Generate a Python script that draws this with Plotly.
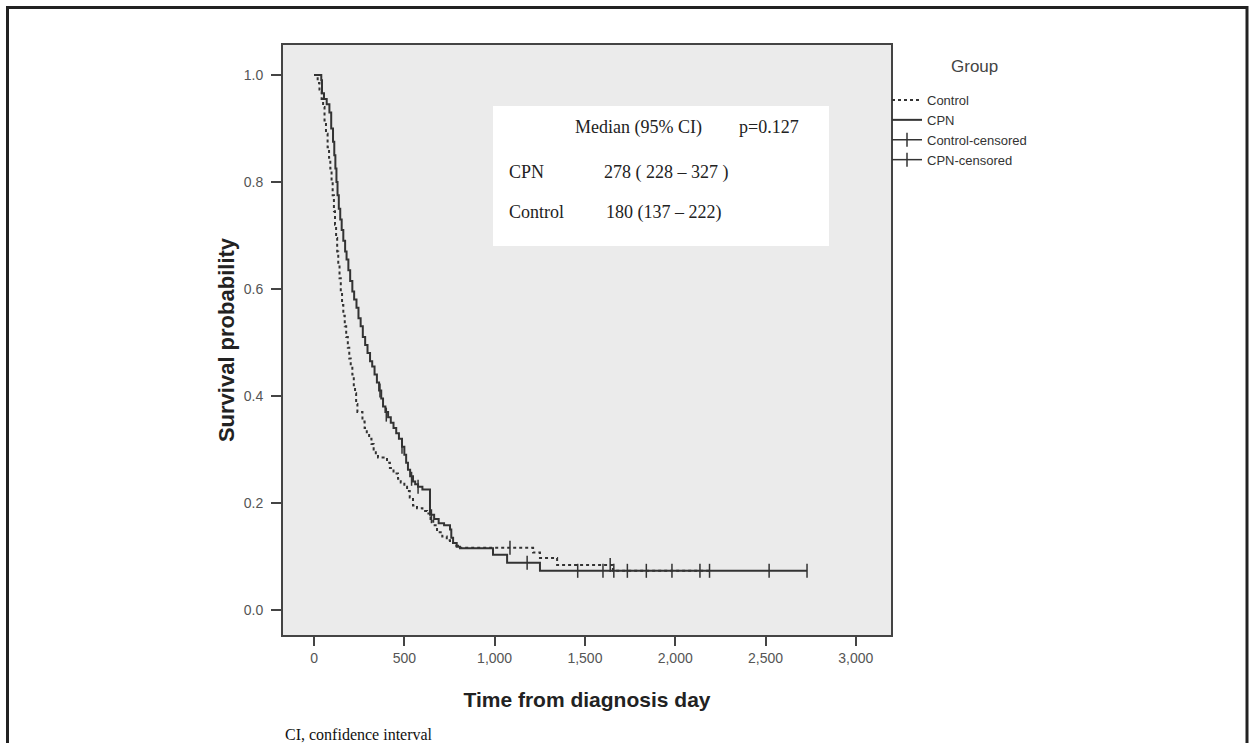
import plotly.graph_objects as go

# ---- data ----
cpn_time = [0, 40, 44, 55, 70, 85, 95, 105, 112, 118, 124, 130, 137, 145, 153, 162, 172, 180,
            190, 200, 212, 222, 235, 246, 258, 270, 283, 296, 310, 322, 335, 348, 360, 372,
            382, 395, 410, 425, 440, 455, 470, 487, 500, 510, 520, 532, 548, 560, 576, 600,
            642, 665, 690, 720, 753, 760, 770, 790, 808, 991, 1069, 1251, 2730]
cpn_surv = [1.0, 0.99, 0.966, 0.955, 0.945, 0.93, 0.90, 0.875, 0.85, 0.825, 0.80, 0.775, 0.75,
            0.73, 0.71, 0.69, 0.67, 0.655, 0.635, 0.615, 0.595, 0.58, 0.565, 0.545, 0.53,
            0.51, 0.495, 0.48, 0.465, 0.455, 0.44, 0.425, 0.41, 0.395, 0.38, 0.37, 0.36, 0.35,
            0.34, 0.33, 0.32, 0.305, 0.29, 0.275, 0.262, 0.25, 0.24, 0.235, 0.23, 0.225,
            0.178, 0.17, 0.162, 0.158, 0.15, 0.135, 0.125, 0.118, 0.115, 0.103, 0.088, 0.073,
            0.073]

ctrl_time = [0, 20, 30, 42, 50, 58, 66, 75, 83, 90, 97, 103, 110, 116, 122, 128, 134, 141, 148,
             155, 162, 170, 178, 187, 195, 203, 212, 220, 227, 233, 240, 268, 280, 292, 305,
             318, 330, 342, 354, 404, 420, 440, 465, 480, 500, 515, 530, 548, 570, 600, 626,
             645, 660, 681, 710, 735, 753, 775, 797, 1213, 1251, 1346, 1655, 2193]
ctrl_surv = [1.0, 0.985, 0.97, 0.955, 0.94, 0.915, 0.89, 0.865, 0.845, 0.825, 0.80, 0.775,
             0.745, 0.72, 0.695, 0.67, 0.645, 0.62, 0.595, 0.57, 0.55, 0.53, 0.51, 0.49, 0.47,
             0.455, 0.44, 0.42, 0.405, 0.385, 0.37, 0.352, 0.34, 0.33, 0.32, 0.31, 0.30, 0.29,
             0.285, 0.275, 0.265, 0.255, 0.245, 0.238, 0.23, 0.222, 0.21, 0.195, 0.19, 0.185,
             0.18, 0.17, 0.158, 0.145, 0.137, 0.13, 0.125, 0.12, 0.116, 0.107, 0.097, 0.084,
             0.073, 0.073]

cpn_cens_time = [365, 400, 487, 540, 576, 650, 1180, 1460, 1600, 1840, 2190, 2520, 2730]
cpn_cens_surv = [0.41, 0.365, 0.305, 0.245, 0.23, 0.175, 0.088, 0.073, 0.073, 0.073, 0.073,
                 0.073, 0.073]
ctrl_cens_time = [1085, 1640, 1660, 1735, 1982, 2137]
ctrl_cens_surv = [0.116, 0.084, 0.073, 0.073, 0.073, 0.073]

x_ticks = [0, 500, 1000, 1500, 2000, 2500, 3000]
y_ticks = [0.0, 0.2, 0.4, 0.6, 0.8, 1.0]

table_rows = [("CPN", "278 ( 228 – 327 )"), ("Control", "180 (137 – 222)")]
table_header = "Median (95% CI)"
p_text = "p=0.127"

# ---- geometry (pixels) ----
W, H = 1249, 743
L, R, T, B = 283, 891, 45, 635
def px(xp):
    return (xp - L) / (R - L)
def py(yp):
    return (B - yp) / (B - T)

LINE = "#333333"

def broken(xs, ys):
    bx, by = [], []
    for a, b in zip(xs, ys):
        bx += [a, None]
        by += [b, None]
    return bx, by

fig = go.Figure()
fig.add_trace(go.Scatter(x=ctrl_time, y=ctrl_surv, mode="lines", name="Control",
                         line=dict(color=LINE, width=2, dash="dot", shape="hv")))
fig.add_trace(go.Scatter(x=cpn_time, y=cpn_surv, mode="lines", name="CPN",
                         line=dict(color=LINE, width=2, shape="hv")))
cx, cy = broken(ctrl_cens_time, ctrl_cens_surv)
fig.add_trace(go.Scatter(x=cx, y=cy, mode="lines+markers", name="Control-censored",
                         line=dict(color=LINE, width=1.5),
                         marker=dict(symbol="line-ns", size=10, line=dict(color=LINE, width=1.5))))
kx, ky = broken(cpn_cens_time, cpn_cens_surv)
fig.add_trace(go.Scatter(x=kx, y=ky, mode="lines+markers", name="CPN-censored",
                         line=dict(color=LINE, width=1.5),
                         marker=dict(symbol="line-ns", size=10, line=dict(color=LINE, width=1.5))))

serif = "Liberation Serif, Times New Roman, serif"
sans = "Liberation Sans, Arial, sans-serif"
TXT = dict(family=serif, size=18, color="#222")

shapes = [
    dict(type="rect", xref="paper", yref="paper", x0=px(493), x1=px(829), y0=py(246), y1=py(106),
         fillcolor="white", line=dict(width=0), layer="below"),
    dict(type="rect", xref="paper", yref="paper", x0=px(7.5), x1=px(1247), y0=py(780), y1=py(7.5),
         line=dict(color="#222222", width=3), fillcolor="rgba(0,0,0,0)"),
]

def ann(text, xp, yp, font, anchor="left"):
    return dict(text=text, x=px(xp), y=py(yp), xref="paper", yref="paper", xanchor=anchor,
                yanchor="middle", showarrow=False, font=font)

annotations = [
    ann(table_header, 573, 127, TXT),
    ann(p_text, 737, 127, TXT),
    ann("CI, confidence interval", 283, 734, dict(family=serif, size=16, color="#111")),
    ann("Group", 974, 67, dict(family=sans, size=17, color="#444"), anchor="center"),
]
for i, (name, val) in enumerate(table_rows):
    yy = 172 + 40 * i
    annotations.append(ann(name, 507, yy, TXT))
    annotations.append(ann(val, 602 if i == 0 else 604, yy, TXT))

fig.update_layout(
    width=W, height=H,
    margin=dict(l=L, r=W - R, t=T, b=H - B),
    paper_bgcolor="white",
    plot_bgcolor="#EBEBEB",
    showlegend=True,
    legend=dict(x=px(887), y=py(85), xanchor="left", yanchor="top",
                bgcolor="rgba(0,0,0,0)", tracegroupgap=0, itemwidth=30,
                font=dict(family=sans, size=13, color="#333")),
    xaxis=dict(range=[-172, 3195], tickvals=x_ticks, tickformat=",", showgrid=False,
               zeroline=False, showline=True, linecolor="#444", linewidth=2, mirror=True,
               ticks="outside", ticklen=9, tickwidth=1.5, tickcolor="#444",
               tickfont=dict(family=sans, size=14, color="#555"),
               title=dict(text="<b>Time from diagnosis day</b>", standoff=28,
                          font=dict(family=sans, size=21, color="#222"))),
    yaxis=dict(range=[-0.047, 1.056], tickvals=y_ticks, tickformat=".1f", showgrid=False,
               zeroline=False, showline=True, linecolor="#444", linewidth=2, mirror=True,
               ticks="outside", ticklen=10, tickwidth=1.5, tickcolor="#444",
               ticklabelstandoff=5,
               tickfont=dict(family=sans, size=14, color="#555"),
               title=dict(text="<b>Survival probability</b>", standoff=3,
                          font=dict(family=sans, size=22, color="#222"))),
    shapes=shapes,
    annotations=annotations,
)

fig.write_html("out.html", config={"displayModeBar": False},
               post_script="document.body.style.margin='0';document.body.style.padding='0';")
